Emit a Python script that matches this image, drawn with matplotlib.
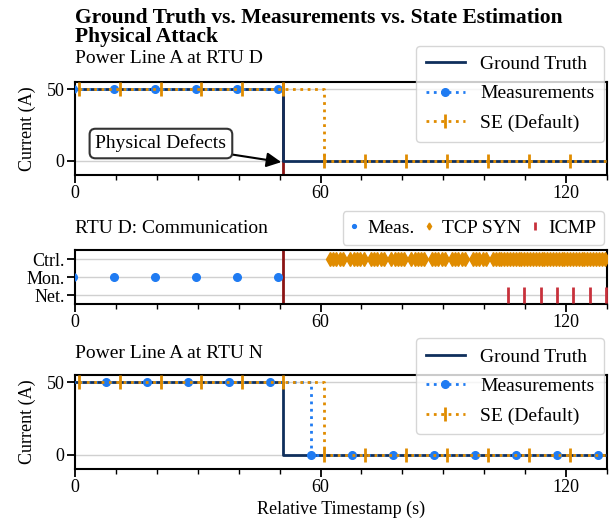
import matplotlib
matplotlib.use("Agg")
import matplotlib.pyplot as plt

plt.rcParams['font.family'] = ['Liberation Serif', 'DejaVu Serif']
plt.rcParams['font.size'] = 13

# ---- data ----
attack_t = 50.8

gt_t = [0, 50.8, 130]
gt_v = [50, 0, 0]

# RTU D measurements stop at the attack
meas_d_t = [-0.4, 9.6, 19.6, 29.6, 39.6, 49.6]
meas_d_v = [50, 50, 50, 50, 50, 50]

se_t = [0.9, 10.9, 20.9, 30.9, 40.9, 50.9, 60.9, 70.9, 80.9, 90.9,
        100.9, 110.9, 120.9, 130.9]
se_v = [50, 50, 50, 50, 50, 50, 0, 0, 0, 0, 0, 0, 0, 0]

meas_n_t = [-2.4, 7.6, 17.6, 27.6, 37.6, 47.6, 57.6, 67.6, 77.6, 87.7,
            97.7, 107.7, 117.7, 127.8]
meas_n_v = [50, 50, 50, 50, 50, 50, 0, 0, 0, 0, 0, 0, 0, 0]

syn_t = [62.3, 63.1, 63.9, 64.7, 65.5,
         67.3, 68.1, 68.9, 69.7, 70.5,
         72.3, 73.1, 73.9, 74.7, 75.5,
         77.3, 78.1, 78.9, 79.7, 80.5,
         82.2, 83.0, 83.8, 84.6, 85.4,
         87.2, 88.0, 88.8, 89.6, 90.4,
         92.1, 92.9, 93.7, 94.5, 95.3,
         97.2, 98.0, 98.8, 99.6, 100.4,
         102.1, 102.8, 103.5, 104.2, 104.9, 105.6, 106.3, 107.0, 107.7, 108.4,
         109.1, 109.8, 110.5, 111.2, 111.9, 112.6, 113.3, 114.0, 114.7, 115.4,
         116.1, 116.8, 117.5, 118.2, 118.9, 119.6, 120.3, 121.0, 121.7, 122.4,
         123.1, 123.8, 124.5, 125.2, 125.9, 126.6, 127.3, 128.0, 128.7, 129.4]
icmp_t = [105.8, 109.8, 113.8, 117.8, 121.8, 125.8, 129.8]

comm_labels = ['Net.', 'Mon.', 'Ctrl.']

c_gt = '#0f2f5c'
c_meas = '#1f7bf2'
c_se = '#e08c00'
c_icmp = '#c8313c'
c_att = '#8b1414'

fig = plt.figure(figsize=(6.12, 5.2), dpi=100)
L, W = 75 / 612, 532 / 612
ax1 = fig.add_axes([L, 1 - 175 / 520, W, 93 / 520])
ax2 = fig.add_axes([L, 1 - 304 / 520, W, 54 / 520])
ax3 = fig.add_axes([L, 1 - 469 / 520, W, 94 / 520])


def style(ax):
    ax.set_xlim(0, 130)
    ax.set_xticks([0, 60, 120])
    ax.set_xticks(range(0, 131, 10), minor=True)
    ax.tick_params(which='major', length=6, width=1.3, labelsize=13, pad=1.5)
    ax.tick_params(which='minor', length=3.5, width=1.0)
    for s in ax.spines.values():
        s.set_linewidth(1.5)
    ax.grid(axis='y', color='#d0d0d0', lw=1)
    ax.set_axisbelow(True)


def power_panel(ax, mt, mv):
    style(ax)
    ax.plot(gt_t, gt_v, drawstyle='steps-post', color=c_gt, lw=2,
            label='Ground Truth', zorder=3)
    ax.plot(mt, mv, drawstyle='steps-post', color=c_meas, ls=':', lw=2,
            marker='o', ms=5.5, label='Measurements', zorder=4)
    ax.plot(se_t, se_v, drawstyle='steps-post', color=c_se, ls=':', lw=2,
            marker='|', ms=10, mew=2, label='SE (Default)', zorder=4)
    ax.set_ylim(-10, 55)
    ax.set_yticks([0, 50])
    ax.set_ylabel('Current (A)', fontsize=13, labelpad=8)
    ax.legend(loc='upper right', bbox_to_anchor=(0.995, 1.39), fontsize=14,
              borderaxespad=0.0, handlelength=2.0, labelspacing=0.6,
              borderpad=0.5)


power_panel(ax1, meas_d_t, meas_d_v)
ax1.axvline(attack_t, color=c_att, lw=2, zorder=2)
ax1.set_title('Power Line A at RTU D', loc='left', fontsize=14, pad=14)
ax1.annotate('Physical Defects', xy=(50.4, -1), xytext=(21, 12),
             ha='center', va='center', fontsize=14,
             bbox=dict(boxstyle='round,pad=0.3', fc='white', ec='#333333', lw=1.5),
             arrowprops=dict(arrowstyle='-|>', color='black', lw=1.5,
                             mutation_scale=22, shrinkA=0, shrinkB=0))

style(ax2)
ax2.plot(meas_d_t, [1] * len(meas_d_t), ls='none', marker='o', ms=5.5,
         color=c_meas, label='Meas.', zorder=4)
ax2.plot(syn_t, [2] * len(syn_t), ls='none', marker='d', ms=7,
         color=c_se, label='TCP SYN', zorder=4)
ax2.plot(icmp_t, [0] * len(icmp_t), ls='none', marker='|', ms=12, mew=2,
         color=c_icmp, label='ICMP', zorder=4)
ax2.axvline(attack_t, color=c_att, lw=2, zorder=2)
ax2.set_ylim(-0.5, 2.5)
ax2.set_yticks([0, 1, 2])
ax2.set_yticklabels(comm_labels)
ax2.set_title('RTU D: Communication', loc='left', fontsize=14, pad=12)
ax2.legend(loc='lower right', bbox_to_anchor=(0.995, 1.1), ncol=3, fontsize=14,
           markerscale=0.5, handlelength=0.4, handletextpad=0.5,
           columnspacing=0.5, borderaxespad=0.0, borderpad=0.4)

power_panel(ax3, meas_n_t, meas_n_v)
ax3.set_title('Power Line A at RTU N', loc='left', fontsize=14, pad=12)
ax3.set_xlabel('Relative Timestamp (s)', fontsize=13, labelpad=3)

fig.text(L, 0.985, 'Ground Truth vs. Measurements vs. State Estimation\nPhysical Attack',
         ha='left', va='top', fontsize=15.5, fontweight='bold', linespacing=0.95)

fig.savefig('out.png', dpi=100)
